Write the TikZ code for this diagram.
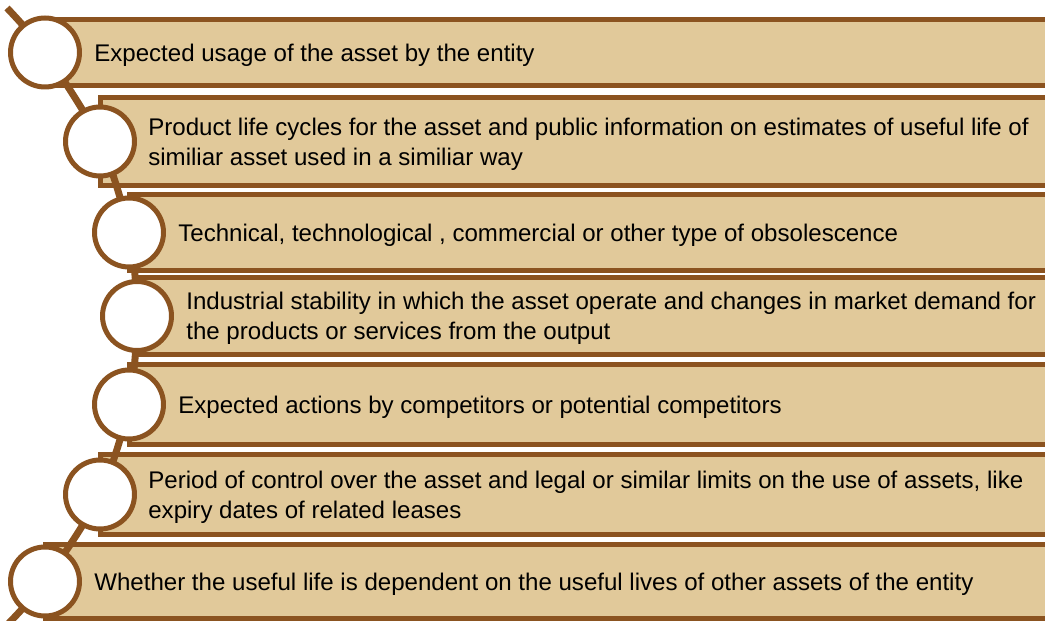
\documentclass[tikz,border=0pt]{standalone}
\usepackage{fontspec}
\setmainfont{Liberation Sans}
\usetikzlibrary{positioning}
\definecolor{barfill}{RGB}{225,201,154}
\definecolor{rim}{RGB}{139,83,32}

\begin{document}
\begin{tikzpicture}[x=0.02cm,y=-0.02cm,
    bar/.style={draw=rim,fill=barfill,line width=0.1cm},
    ring/.style={draw=rim,fill=white,circle,line width=0.1cm,minimum size=1.38cm,inner sep=0pt},
    txt/.style={inner sep=0pt,align=left,yshift=-0.05cm,font=\fontsize{13.7}{17}\selectfont},
    spine/.style={draw=rim,line width=0.14cm}]
    \useasboundingbox (0,0) rectangle (1045,621);
    % bars
    \draw[bar] (45,19.5) rectangle (1070,85.5);
    \draw[bar] (100,97.5) rectangle (1070,185.5);
    \draw[bar] (129,194.5) rectangle (1070,270.5);
    \draw[bar] (137,277.5) rectangle (1070,354.5);
    \draw[bar] (129,364.5) rectangle (1070,444.5);
    \draw[bar] (100,454.5) rectangle (1070,534.5);
    \draw[bar] (45,544.5) rectangle (1070,618.5);
    % spine through the circle centres
    \coordinate (top) at (7,8);
    \coordinate (p1) at (45,52.5);
    \coordinate (p2) at (100,141.5);
    \coordinate (p3) at (129,232.5);
    \coordinate (p4) at (137,316);
    \coordinate (p5) at (129,404.5);
    \coordinate (p6) at (100,494.5);
    \coordinate (p7) at (45,581.5);
    \coordinate (bot) at (7,625);
    \draw[spine] plot[smooth] coordinates {(top) (p1) (p2) (p3) (p4) (p5) (p6) (p7) (bot)};
    \node (c1) [ring] at (p1) {};
    \node (c2) [ring] at (p2) {};
    \node (c3) [ring] at (p3) {};
    \node (c4) [ring] at (p4) {};
    \node (c5) [ring] at (p5) {};
    \node (c6) [ring] at (p6) {};
    \node (c7) [ring] at (p7) {};
    % texts
    \node (t1) [txt,right=0.24cm of c1] {Expected usage of the asset by the entity};
    \node (t2) [txt,right=0.22cm of c2] {Product life cycles for the asset and public information on estimates of useful life of\\similiar asset used in a similiar way};
    \node (t3) [txt,right=0.24cm of c3] {Technical, technological , commercial or other type of obsolescence};
    \node (t4) [txt,right=0.24cm of c4] {Industrial stability in which the asset operate and changes in market demand for\\the products or services from the output};
    \node (t5) [txt,right=0.24cm of c5] {Expected actions by competitors or potential competitors};
    \node (t6) [txt,right=0.22cm of c6] {Period of control over the asset and legal or similar limits on the use of assets, like\\expiry dates of related leases};
    \node (t7) [txt,right=0.24cm of c7] {Whether the useful life is dependent on the useful lives of other assets of the entity};
\end{tikzpicture}
\end{document}
